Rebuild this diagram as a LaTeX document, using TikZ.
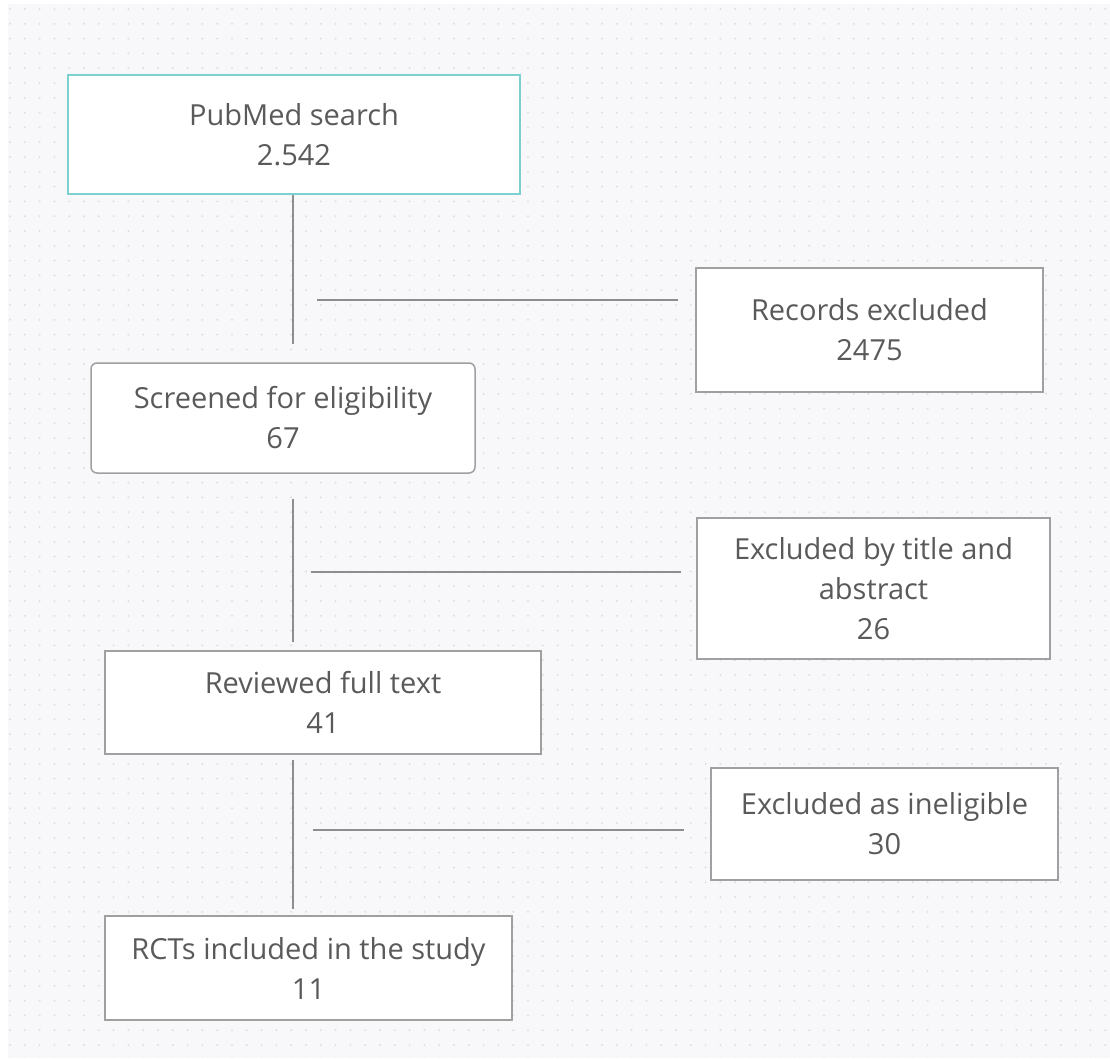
\documentclass[tikz,border=0pt]{standalone}
\usepackage{fontspec}
\setmainfont{Open Sans}
\usetikzlibrary{positioning}
\definecolor{boardbg}{HTML}{F8F8FA}
\definecolor{boarddot}{HTML}{DEDEE3}
\definecolor{inktext}{HTML}{5A5A5A}
\definecolor{boxline}{HTML}{A0A0A0}
\definecolor{linkline}{HTML}{8E8E8E}
\definecolor{tealline}{HTML}{7CD0D0}
\begin{document}
\begin{tikzpicture}[x=1pt,y=-1pt,
    stage/.style={draw=boxline,line width=1.5pt,fill=white,align=center,
        text=inktext,font=\fontsize{29}{40}\selectfont,inner sep=0pt},
    link/.style={draw=linkline,line width=1.8pt}
]
    % board
    \useasboundingbox (0,0) rectangle (1110,1058);
    \fill[boardbg] (8,4) rectangle (1110,1058);
    \foreach \i in {0,...,74}
        \foreach \j in {0,...,71}
            \fill[boarddot] (10+14.8*\i,9+14.8*\j) circle (1.1);

    % stages
    \node[stage,draw=tealline,line width=2pt,minimum width=452pt,minimum height=119pt]
        (search) at (294,134.5) {PubMed search\\2.542};
    \node[stage,minimum width=347pt,minimum height=124pt]
        (records) at (869.5,330) {Records excluded\\2475};
    \node[stage,rounded corners=6pt,minimum width=384pt,minimum height=110pt]
        (screen) at (283,418) {Screened for eligibility\\67};
    \node[stage,minimum width=353pt,minimum height=141pt]
        (title) at (873.5,588.5) {Excluded by title and\\abstract\\26};
    \node[stage,minimum width=436pt,minimum height=103pt]
        (review) at (323,702.5) {Reviewed full text\\41};
    \node[stage,minimum width=347pt,minimum height=112pt]
        (inelig) at (884.5,824) {Excluded as ineligible\\30};
    \node[stage,minimum width=407pt,minimum height=104pt]
        (rct) at (308.5,968) {RCTs included in the study\\11};

    % spine
    \coordinate (spine) at (293,0);
    \draw[link] (search.south -| spine) -- ([yshift=18]screen.north -| spine);
    \draw[link] ([yshift=-25]screen.south -| spine) -- ([yshift=8]review.north -| spine);
    \draw[link] ([yshift=-5]review.south -| spine) -- ([yshift=6]rct.north -| spine);

    % exclusions
    \coordinate (h1) at (317,300);
    \coordinate (h2) at (311,572);
    \coordinate (h3) at (313,830);
    \draw[link] (h1) -- ([xshift=-17]h1 -| records.west);
    \draw[link] (h2) -- ([xshift=-15]h2 -| title.west);
    \draw[link] (h3) -- ([xshift=-26]h3 -| inelig.west);
\end{tikzpicture}
\end{document}
